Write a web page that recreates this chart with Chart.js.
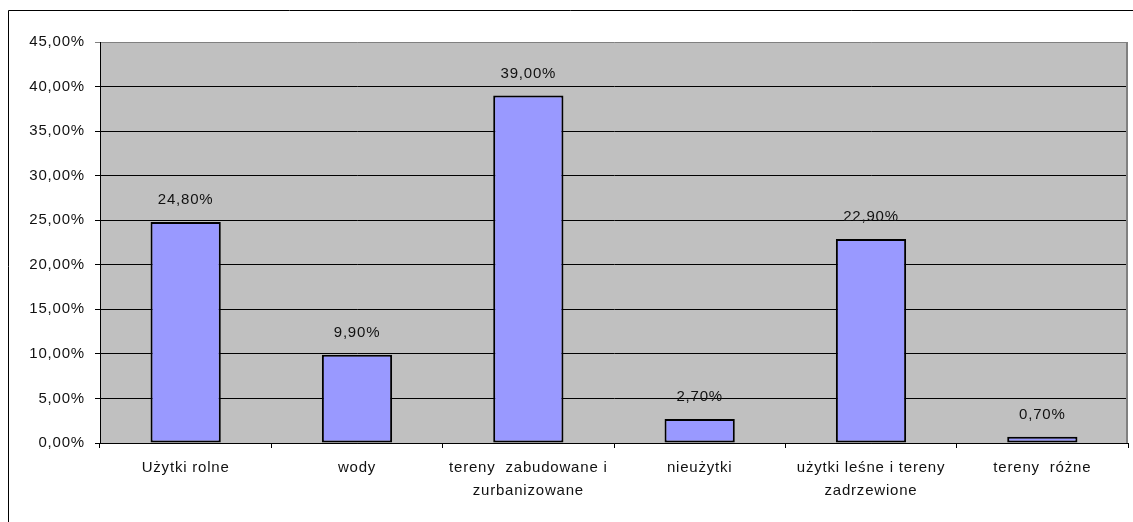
<!DOCTYPE html>
<html>
<head>
<meta charset="utf-8">
<script src="https://cdn.jsdelivr.net/npm/chart.js@4/dist/chart.umd.min.js"></script>
<style>
  html, body { margin: 0; padding: 0; background: #fff; }
  #wrap { width: 1133px; height: 522px; position: relative; }
</style>
</head>
<body>
<div id="wrap"><canvas id="c"></canvas></div>
<script>
/* ── DATA ── */
const categories = [
  'Użytki rolne',
  'wody',
  ['tereny  zabudowane i', 'zurbanizowane'],
  'nieużytki',
  ['użytki leśne i tereny', 'zadrzewione'],
  'tereny  różne'
];
const shares = [24.8, 9.9, 39.0, 2.7, 22.9, 0.7];   // %
const yMax  = 45;
const yStep = 5;

const FONT = "Arial, 'Liberation Sans', sans-serif";
const pct  = v => v.toFixed(2).replace('.', ',') + '%';

/* ── PLUGINS ── */
const spacing = ctx => { if ('letterSpacing' in ctx) ctx.letterSpacing = '0.8px'; };

const frame = {
  id: 'frame',
  beforeUpdate(chart) { spacing(chart.ctx); },
  beforeDraw(chart) {
    const { ctx, chartArea: a } = chart;
    spacing(ctx);
    ctx.save();
    ctx.fillStyle = '#c0c0c0';
    ctx.fillRect(a.left, a.top, a.right - a.left, a.bottom - a.top);
    // outer border (only left + top visible in the source)
    ctx.strokeStyle = '#000';
    ctx.lineWidth = 1;
    ctx.beginPath();
    ctx.moveTo(8.5, chart.height);
    ctx.lineTo(8.5, 10.5);
    ctx.lineTo(chart.width, 10.5);
    ctx.stroke();
    ctx.restore();
  },
  afterDatasetsDraw(chart) {
    const { ctx, chartArea: a } = chart;
    ctx.save();
    ctx.strokeStyle = '#808080';
    ctx.lineWidth = 2;
    ctx.beginPath();
    ctx.moveTo(a.right - 1, a.top);
    ctx.lineTo(a.right - 1, a.bottom);
    ctx.stroke();
    // value labels
    ctx.fillStyle = '#111';
    ctx.font = '15px ' + FONT;
    ctx.textAlign = 'center';
    ctx.textBaseline = 'middle';
    chart.getDatasetMeta(0).data.forEach((bar, i) => {
      ctx.fillText(pct(shares[i]), bar.x, bar.y - 22);
    });
    ctx.restore();
  }
};

new Chart(document.getElementById('c'), {
  type: 'bar',
  data: {
    labels: categories,
    datasets: [{
      data: shares,
      backgroundColor: '#9999ff',
      borderColor: '#000',
      borderWidth: 2,
      borderSkipped: false,
      categoryPercentage: 1,
      barPercentage: 0.41
    }]
  },
  options: {
    responsive: true,
    maintainAspectRatio: false,
    animation: false,
    layout: { padding: { top: 42, right: 5, left: 0, bottom: 0 } },
    plugins: { legend: { display: false }, tooltip: { enabled: false } },
    scales: {
      x: {
        afterFit: s => { s.height = 79; },
        grid: { offset: true, drawOnChartArea: false, drawTicks: true, tickLength: 5, color: '#000' },
        border: { color: '#000', width: 1 },
        ticks: {
          color: '#111', padding: 8, maxRotation: 0, autoSkip: false,
          font: { family: FONT, size: 15, lineHeight: 1.55 }
        }
      },
      y: {
        min: 0, max: yMax,
        afterFit: s => { s.width = 100; },
        grid: {
          color: c => (c.tick && c.tick.value === yMax) ? '#808080' : '#000',
          tickLength: 5
        },
        border: { color: '#000', width: 1 },
        ticks: {
          stepSize: yStep, color: '#111', padding: 10,
          font: { family: FONT, size: 15 },
          callback: v => pct(v)
        }
      }
    }
  },
  plugins: [frame]
});
</script>
</body>
</html>
